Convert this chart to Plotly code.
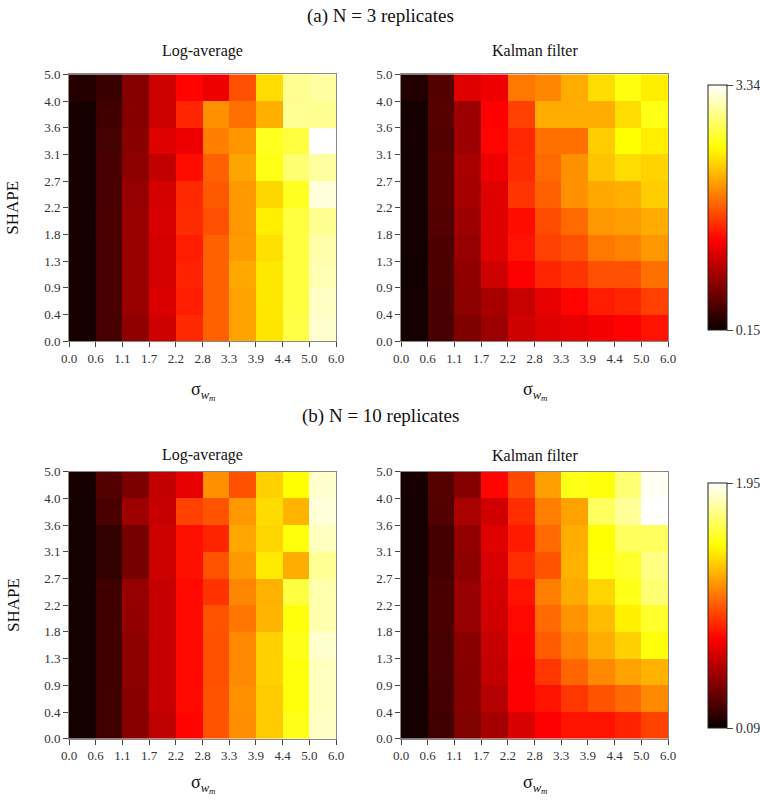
import plotly.graph_objects as go

# ---------------- data ----------------
x_labels = ["0.0", "0.6", "1.1", "1.7", "2.2", "2.8", "3.3", "3.9", "4.4", "5.0", "6.0"]
y_labels = ["0.0", "0.4", "0.9", "1.3", "1.8", "2.2", "2.7", "3.1", "3.6", "4.0", "5.0"]

# rows: SHAPE bins bottom (0.0) -> top (4.0-5.0); columns: sigma bins left -> right
a_log = [
    [0.21, 0.44, 0.78, 1.08, 1.51, 1.77, 2.09, 2.41, 2.76, 3.18],
    [0.21, 0.45, 0.83, 1.14, 1.45, 1.77, 2.09, 2.42, 2.73, 3.15],
    [0.21, 0.45, 0.83, 1.10, 1.47, 1.77, 2.12, 2.42, 2.73, 3.10],
    [0.21, 0.45, 0.83, 1.11, 1.45, 1.77, 2.05, 2.38, 2.73, 3.07],
    [0.21, 0.46, 0.83, 1.13, 1.52, 1.69, 2.04, 2.45, 2.73, 2.99],
    [0.21, 0.45, 0.82, 1.11, 1.51, 1.74, 2.04, 2.34, 2.63, 3.23],
    [0.21, 0.45, 0.77, 1.03, 1.37, 1.77, 2.10, 2.60, 2.89, 3.04],
    [0.21, 0.43, 0.75, 1.16, 1.24, 1.92, 2.03, 2.63, 2.73, 3.34],
    [0.21, 0.41, 0.73, 1.08, 1.49, 2.00, 1.85, 2.15, 3.00, 2.99],
    [0.28, 0.37, 0.73, 1.08, 1.33, 1.24, 1.69, 2.37, 2.99, 3.04],
]
a_kal = [
    [0.20, 0.44, 0.71, 0.85, 1.08, 1.16, 1.20, 1.26, 1.32, 1.40],
    [0.20, 0.45, 0.77, 0.90, 1.05, 1.20, 1.33, 1.45, 1.49, 1.62],
    [0.19, 0.47, 0.79, 1.08, 1.30, 1.49, 1.56, 1.69, 1.69, 1.85],
    [0.20, 0.47, 0.82, 1.16, 1.40, 1.62, 1.69, 1.89, 1.94, 2.04],
    [0.20, 0.49, 0.85, 1.16, 1.37, 1.67, 1.82, 2.04, 2.06, 2.13],
    [0.20, 0.51, 0.89, 1.16, 1.56, 1.77, 2.00, 2.12, 2.15, 2.29],
    [0.20, 0.51, 0.90, 1.24, 1.52, 1.82, 2.00, 2.25, 2.37, 2.32],
    [0.22, 0.49, 0.85, 1.33, 1.50, 1.85, 1.85, 2.29, 2.53, 2.45],
    [0.20, 0.51, 0.85, 1.31, 1.62, 2.13, 2.13, 2.13, 2.37, 2.60],
    [0.27, 0.49, 1.16, 1.24, 1.89, 1.96, 2.13, 2.37, 2.57, 2.45],
]
b_log = [
    [0.12, 0.24, 0.44, 0.59, 0.78, 1.00, 1.16, 1.33, 1.52, 1.84],
    [0.12, 0.24, 0.44, 0.61, 0.79, 1.00, 1.17, 1.33, 1.50, 1.83],
    [0.12, 0.24, 0.45, 0.61, 0.79, 0.99, 1.15, 1.35, 1.50, 1.83],
    [0.12, 0.24, 0.45, 0.61, 0.79, 0.99, 1.15, 1.35, 1.52, 1.86],
    [0.12, 0.24, 0.47, 0.61, 0.79, 1.00, 1.10, 1.27, 1.50, 1.80],
    [0.12, 0.24, 0.48, 0.61, 0.79, 0.91, 1.14, 1.26, 1.60, 1.80],
    [0.12, 0.20, 0.39, 0.63, 0.81, 1.00, 1.19, 1.42, 1.25, 1.75],
    [0.12, 0.20, 0.39, 0.63, 0.81, 0.87, 1.23, 1.36, 1.50, 1.83],
    [0.12, 0.27, 0.50, 0.61, 0.95, 1.00, 1.19, 1.38, 1.27, 1.88],
    [0.13, 0.29, 0.41, 0.60, 0.70, 1.17, 0.99, 1.35, 1.48, 1.86],
]
b_kal = [
    [0.12, 0.24, 0.42, 0.52, 0.66, 0.77, 0.82, 0.82, 0.86, 0.95],
    [0.12, 0.25, 0.43, 0.56, 0.77, 0.82, 0.92, 1.00, 1.06, 1.15],
    [0.12, 0.26, 0.43, 0.60, 0.77, 0.92, 1.05, 1.15, 1.22, 1.26],
    [0.12, 0.26, 0.44, 0.61, 0.78, 1.02, 1.13, 1.25, 1.35, 1.50],
    [0.12, 0.27, 0.48, 0.64, 0.79, 1.06, 1.18, 1.29, 1.44, 1.56],
    [0.12, 0.27, 0.48, 0.65, 0.82, 1.12, 1.24, 1.36, 1.52, 1.69],
    [0.12, 0.25, 0.45, 0.66, 0.89, 1.00, 1.26, 1.50, 1.56, 1.72],
    [0.12, 0.25, 0.47, 0.68, 0.84, 1.06, 1.25, 1.48, 1.65, 1.65],
    [0.12, 0.29, 0.53, 0.64, 0.89, 1.12, 1.22, 1.65, 1.76, 1.95],
    [0.13, 0.30, 0.43, 0.78, 0.97, 1.21, 1.52, 1.50, 1.69, 1.93],
]
range_a = [0.15, 3.34]
range_b = [0.09, 1.95]

# ---------------- style ----------------
W, H = 760, 800
FONT = "Liberation Serif, Times New Roman, serif"
hot = [[0.0, "rgb(10,0,0)"], [0.365, "rgb(255,0,0)"], [0.746, "rgb(255,255,0)"], [1.0, "rgb(255,255,255)"]]

edges = list(range(len(x_labels)))  # cell boundaries 0..10

def px_x(p):
    return p / W

def px_y(p):
    return 1 - p / H

panels = [
    (a_log, "coloraxis", 69, 74.3),
    (a_kal, "coloraxis", 401, 74.3),
    (b_log, "coloraxis2", 69, 471.7),
    (b_kal, "coloraxis2", 401, 471.7),
]
SIZE = 267

fig = go.Figure()
layout_axes = {}
for i, (z, cax, xl, yt) in enumerate(panels, start=1):
    xa = "x" if i == 1 else f"x{i}"
    ya = "y" if i == 1 else f"y{i}"
    fig.add_trace(go.Heatmap(
        z=z, x=edges, y=edges, coloraxis=cax, xaxis=xa, yaxis=ya,
        xgap=0, ygap=0,
    ))
    common = dict(
        tickmode="array", tickvals=edges, ticks="outside", ticklen=5, tickwidth=1,
        tickcolor="#444", showline=True, linecolor="#888", linewidth=1, mirror=True,
        showgrid=False, zeroline=False, range=[0, 10], fixedrange=True,
        automargin=False,
        tickfont=dict(family=FONT, size=13, color="#333"),
    )
    layout_axes["xaxis" if i == 1 else f"xaxis{i}"] = dict(
        common, ticktext=x_labels, domain=[px_x(xl), px_x(xl + SIZE)],
        anchor=ya,
    )
    layout_axes["yaxis" if i == 1 else f"yaxis{i}"] = dict(
        common, ticktext=y_labels, domain=[px_y(yt + SIZE), px_y(yt)],
        anchor=xa,
    )

cb_common = dict(
    thickness=19, lenmode="pixels", len=265, xanchor="left", x=px_x(698),
    yanchor="top", outlinewidth=1, outlinecolor="#222",
    ticks="outside", ticklen=6, tickcolor="#444",
    tickfont=dict(family=FONT, size=14, color="#333"),
)

annotations = []
def ann(text, x, y, size, angle=0):
    annotations.append(dict(text=text, x=px_x(x), y=px_y(y), xref="paper", yref="paper",
                            xanchor="center", yanchor="middle",
                            showarrow=False, textangle=angle,
                            font=dict(family=FONT, size=size, color="#111")))

ann("(a) N = 3 replicates", 380, 16, 19)
ann("Log-average", 202.5, 51, 16)
ann("Kalman filter", 534.5, 51, 16)
ann("(b) N = 10 replicates", 380, 416, 19)
ann("Log-average", 202.5, 455, 16)
ann("Kalman filter", 534.5, 455, 16)
ann("SHAPE", 13, 207.7, 17, -90)
ann("SHAPE", 13, 605, 17, -90)
for cx in (202.5, 534.5):
    ann("σ<sub><i>w<sub>m</sub></i></sub>", cx, 391, 18)
    ann("σ<sub><i>w<sub>m</sub></i></sub>", cx, 784, 18)

fig.update_layout(
    width=W, height=H, margin=dict(l=0, r=0, t=0, b=0, autoexpand=False),
    paper_bgcolor="white", plot_bgcolor="white",
    font=dict(family=FONT, color="#333"),
    coloraxis=dict(colorscale=hot, cmin=range_a[0], cmax=range_a[1],
                   colorbar=dict(cb_common, y=px_y(75), tickvals=range_a,
                                 ticktext=[f"{v:.2f}" for v in range_a])),
    coloraxis2=dict(colorscale=hot, cmin=range_b[0], cmax=range_b[1],
                    colorbar=dict(cb_common, y=px_y(473), tickvals=range_b,
                                  ticktext=[f"{v:.2f}" for v in range_b])),
    annotations=annotations,
    **layout_axes,
)

fig.write_html("out.html", config={"displayModeBar": False},
               post_script="document.body.style.margin='0px';")
